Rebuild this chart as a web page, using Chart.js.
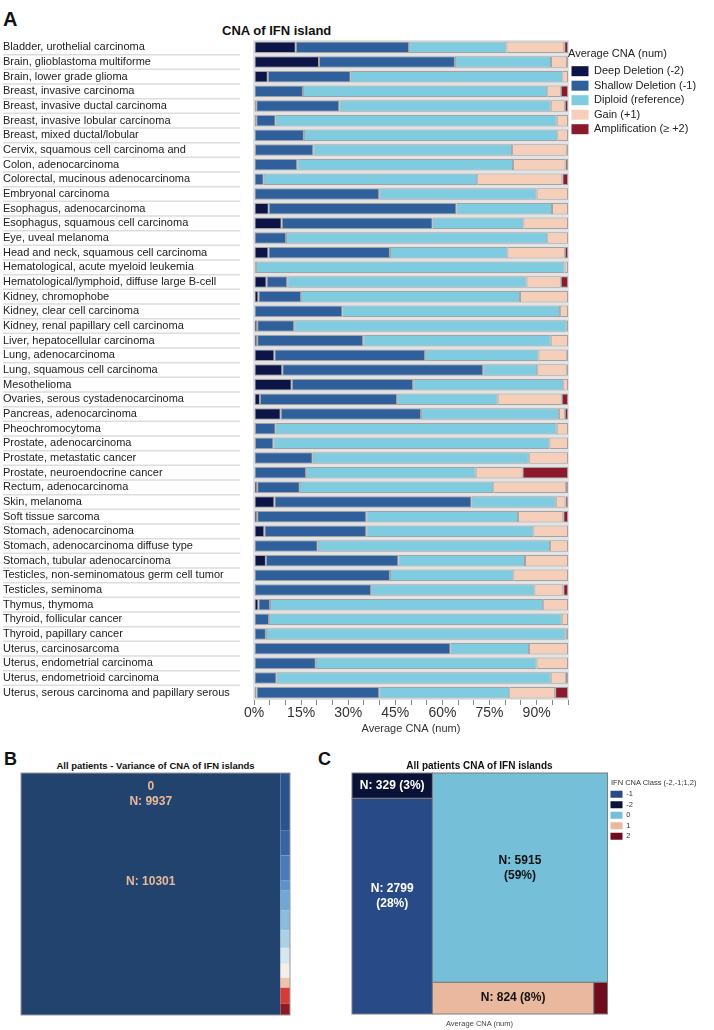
<!DOCTYPE html>
<html>
<head>
<meta charset="utf-8">
<title>CNA of IFN island</title>
<script src="https://cdn.jsdelivr.net/npm/chart.js@4.4.1/dist/chart.umd.min.js"></script>
<style>
  body { margin: 0; background: #fff; }
  #page { position: relative; width: 714px; height: 1030px; overflow: hidden; font-family: "Liberation Sans", Arial, Helvetica, sans-serif; }
  #page canvas { position: absolute; }
  .txt { position: absolute; white-space: nowrap; line-height: 1; color: #111; }
  .b { font-weight: bold; }
  .c { text-align: center; }
</style>
</head>
<body>
<div id="page">
  <div class="txt b" style="left:3px;top:9px;font-size:20px">A</div>
  <div class="txt b" style="left:222px;top:24px;font-size:13px">CNA of IFN island</div>
  <canvas id="chartA" width="714" height="740" style="left:0;top:0"></canvas>

  <div class="txt b" style="left:4px;top:750px;font-size:18px">B</div>
  <div class="txt b c" style="left:21px;top:761px;width:269px;font-size:9.5px">All patients - Variance of CNA of IFN islands</div>
  <canvas id="chartB" width="300" height="290" style="left:0;top:740px"></canvas>

  <div class="txt b" style="left:318px;top:750px;font-size:18px">C</div>
  <div class="txt b c" style="left:352px;top:761px;width:255px;font-size:10px">All patients CNA of IFN islands</div>
  <canvas id="chartC" width="424" height="290" style="left:290px;top:740px"></canvas>
  <div class="txt" style="left:611px;top:779px;font-size:7.5px;color:#333">IFN CNA Class (-2,-1;1,2)</div>
  <div class="txt c" style="left:352px;top:1020px;width:255px;font-size:7.5px;color:#444">Average CNA (num)</div>
</div>

<script>
Chart.defaults.font.family = '"Liberation Sans", Arial, Helvetica, sans-serif';
Chart.defaults.color = '#222';

// ---- panel A data (percent of patients per CNA class) ----
const cancerTypes = [
  'Bladder, urothelial carcinoma', 'Brain, glioblastoma multiforme', 'Brain, lower grade glioma',
  'Breast, invasive carcinoma', 'Breast, invasive ductal carcinoma', 'Breast, invasive lobular carcinoma',
  'Breast, mixed ductal/lobular', 'Cervix, squamous cell carcinoma and', 'Colon, adenocarcinoma',
  'Colorectal, mucinous adenocarcinoma', 'Embryonal carcinoma', 'Esophagus, adenocarcinoma',
  'Esophagus, squamous cell carcinoma', 'Eye, uveal melanoma', 'Head and neck, squamous cell carcinoma',
  'Hematological, acute myeloid leukemia', 'Hematological/lymphoid, diffuse large B-cell', 'Kidney, chromophobe',
  'Kidney, clear cell carcinoma', 'Kidney, renal papillary cell carcinoma', 'Liver, hepatocellular carcinoma',
  'Lung, adenocarcinoma', 'Lung, squamous cell carcinoma', 'Mesothelioma',
  'Ovaries, serous cystadenocarcinoma', 'Pancreas, adenocarcinoma', 'Pheochromocytoma',
  'Prostate, adenocarcinoma', 'Prostate, metastatic cancer', 'Prostate, neuroendocrine cancer',
  'Rectum, adenocarcinoma', 'Skin, melanoma', 'Soft tissue sarcoma',
  'Stomach, adenocarcinoma', 'Stomach, adenocarcinoma diffuse type', 'Stomach, tubular adenocarcinoma',
  'Testicles, non-seminomatous germ cell tumor', 'Testicles, seminoma', 'Thymus, thymoma',
  'Thyroid, follicular cancer', 'Thyroid, papillary cancer', 'Uterus, carcinosarcoma',
  'Uterus, endometrial carcinoma', 'Uterus, endometrioid carcinoma', 'Uterus, serous carcinoma and papillary serous'
];
const deepDeletion = [13.3, 20.7, 4.4, 0, 0.7, 0.7, 0, 0.3, 0, 0, 0, 4.7, 8.8, 0, 4.6,
  0.3, 4.0, 1.4, 0, 1.0, 1.0, 6.5, 9.0, 12.0, 1.9, 8.5, 0.3, 0.3, 0, 0,
  1.0, 6.5, 1.0, 3.3, 0, 3.8, 0, 0, 1.4, 0, 0, 0, 0, 0, 0.8];
const shallowDeletion = [36.1, 43.3, 26.4, 15.6, 26.5, 6.2, 15.9, 18.6, 13.8, 3.1, 39.9, 59.8, 48.1, 10.2, 38.7,
  0.3, 6.6, 13.6, 28.2, 11.8, 33.8, 48.0, 64.0, 38.7, 43.7, 44.7, 6.6, 5.9, 18.7, 16.6,
  13.6, 62.8, 34.8, 32.5, 20.3, 42.2, 43.3, 37.3, 3.7, 4.8, 3.8, 62.6, 19.7, 7.2, 39.1];
const diploid = [31.0, 30.6, 67.4, 77.8, 67.3, 89.5, 80.7, 63.3, 68.7, 68.0, 50.1, 30.4, 28.9, 83.2, 37.4,
  98.3, 76.2, 69.7, 69.3, 86.8, 59.7, 36.1, 17.2, 47.8, 32.0, 43.9, 89.5, 87.9, 68.8, 54.0,
  61.6, 26.8, 48.3, 53.2, 74.0, 40.3, 39.3, 52.0, 87.0, 93.2, 95.4, 25.0, 70.3, 87.3, 41.4];
const gain = [18.4, 5.1, 1.8, 4.3, 4.5, 3.6, 3.4, 17.4, 16.7, 27.1, 10.0, 5.1, 14.2, 6.6, 18.3,
  1.1, 10.9, 15.3, 2.5, 0.4, 5.5, 9.0, 9.4, 1.5, 20.4, 1.9, 3.6, 5.9, 12.5, 14.9,
  23.1, 3.1, 14.4, 11.0, 5.7, 13.7, 17.4, 9.2, 7.9, 2.0, 0.2, 12.4, 10.0, 4.8, 14.6];
const amplification = [1.2, 0.3, 0, 2.3, 1.0, 0, 0, 0.4, 0.8, 1.8, 0, 0, 0, 0, 1.0,
  0, 2.3, 0, 0, 0, 0, 0.4, 0.4, 0, 2.0, 1.0, 0, 0, 0, 14.5,
  0.7, 0.8, 1.5, 0, 0, 0, 0, 1.5, 0, 0, 0.6, 0, 0, 0.7, 4.1];
const cnaClasses = ['Deep Deletion (-2)', 'Shallow Deletion (-1)', 'Diploid (reference)', 'Gain (+1)', 'Amplification (\u2265 +2)'];
const cnaColors = ['#0d1548', '#2f609c', '#7fcbe0', '#f6cfba', '#8b1a2c'];
const xTickStep = 5;
const xLabelEvery = 15;

// ---- panel B data (treemap of variance of CNA) ----
const varianceGroups = ['0', 'v1', 'v2', 'v3', 'v4', 'v5', 'v6', 'v7', 'v8', 'v9', 'v10', 'v11', 'v12'];
const varianceCounts = [9937, 86, 38, 38, 15, 30, 30, 26, 24, 21, 15, 24, 17];
const varianceColors = ['#23436f', '#2c528d', '#3865a2', '#4a7cba', '#5b93c9', '#6fa8d5', '#8bbcde',
  '#aed0e4', '#d5e7ef', '#f6efe9', '#f1c3ac', '#d63c34', '#8e1a24'];

// ---- panel C data (treemap of CNA class) ----
const ifnClasses = ['-1', '-2', '0', '1', '2'];
const ifnCounts = [2799, 329, 5915, 824, 70];
const ifnColors = ['#284b87', '#0b1237', '#75bfd8', '#eab89f', '#6f0c1e'];
const ifnTextColors = ['#ffffff', '#ffffff', '#111111', '#111111', '#111111'];

// treemap nesting (slice and dice): 'h' splits left-right, 'v' splits top-bottom
const bTree = { dir: 'h', children: ['0', { dir: 'v', children: varianceGroups.slice(1) }] };
const cTree = { dir: 'h', children: [{ dir: 'v', children: ['-2', '-1'] }, { dir: 'v', children: ['0', { dir: 'h', children: ['1', '2'] }] }] };

function nodeValue(node, values) {
  if (typeof node === 'string') return values[node];
  return node.children.reduce((s, c) => s + nodeValue(c, values), 0);
}

function layoutTree(node, values, r, out) {
  if (typeof node === 'string') { out.push({ key: node, ...r }); return; }
  const total = nodeValue(node, values);
  let pos = node.dir === 'h' ? r.x0 : r.y0;
  for (const child of node.children) {
    const f = nodeValue(child, values) / total;
    if (node.dir === 'h') {
      const w = (r.x1 - r.x0) * f;
      layoutTree(child, values, { x0: pos, x1: pos + w, y0: r.y0, y1: r.y1 }, out);
      pos += w;
    } else {
      const h = (r.y1 - r.y0) * f;
      layoutTree(child, values, { x0: r.x0, x1: r.x1, y0: pos, y1: pos + h }, out);
      pos += h;
    }
  }
}

// cells are placed in data units and turned into pixels by the chart's scales
function treemapPlugin(tree, keys, counts, colors, stroke, drawLabels) {
  const values = {};
  keys.forEach((k, i) => { values[k] = counts[i]; });
  return {
    id: 'treemapCells',
    afterDatasetsDraw(chart) {
      const { ctx, scales: { x, y } } = chart;
      const cells = [];
      layoutTree(tree, values, { x0: 0, x1: 1, y0: 0, y1: 1 }, cells);
      ctx.save();
      for (const c of cells) {
        c.left = x.getPixelForValue(c.x0);
        c.right = x.getPixelForValue(c.x1);
        c.top = y.getPixelForValue(c.y0);
        c.bottom = y.getPixelForValue(c.y1);
        ctx.fillStyle = colors[keys.indexOf(c.key)];
        ctx.fillRect(c.left, c.top, c.right - c.left, c.bottom - c.top);
        if (stroke) {
          ctx.strokeStyle = stroke;
          ctx.lineWidth = 1;
          ctx.strokeRect(c.left, c.top, c.right - c.left, c.bottom - c.top);
        }
      }
      drawLabels(ctx, cells, values, chart.chartArea);
      ctx.restore();
    }
  };
}

const unitScales = {
  x: { type: 'linear', min: 0, max: 1, offset: false, display: false },
  y: { type: 'linear', min: 0, max: 1, offset: false, reverse: true, display: false },
};

// ---- panel A ----
const rowFrames = {
  id: 'rowFrames',
  beforeDraw(chart) {
    const { ctx, chartArea: a, scales: { y } } = chart;
    ctx.save();
    ctx.fillStyle = '#e3e3e3';
    ctx.fillRect(a.left - 1, a.top, a.right - a.left + 2, a.bottom - a.top);
    ctx.strokeStyle = '#dddddd';
    ctx.lineWidth = 1.5;
    for (let i = 0; i < cancerTypes.length - 1; i++) {
      const yy = (y.getPixelForValue(i) + y.getPixelForValue(i + 1)) / 2;
      ctx.beginPath();
      ctx.moveTo(3, yy);
      ctx.lineTo(240, yy);
      ctx.stroke();
    }
    ctx.restore();
  }
};

const seriesA = [deepDeletion, shallowDeletion, diploid, gain, amplification];

const chartA = new Chart(document.getElementById('chartA'), {
  type: 'bar',
  data: {
    labels: cancerTypes,
    datasets: cnaClasses.map((name, k) => ({
      label: name,
      data: seriesA[k],
      backgroundColor: cnaColors[k],
      borderColor: '#a2a2a2',
      borderWidth: 1,
      borderSkipped: false,
      barPercentage: 0.78,
      categoryPercentage: 1,
    }))
  },
  options: {
    indexAxis: 'y',
    responsive: false,
    animation: false,
    layout: { padding: { top: 40, left: 3, right: 6, bottom: 0 } },
    scales: {
      x: {
        stacked: true,
        min: 0,
        max: 100,
        ticks: {
          stepSize: xTickStep,
          autoSkip: false,
          maxRotation: 0,
          padding: 0,
          color: '#333',
          font: { size: 14 },
          callback: (v) => (v % xLabelEvery === 0 && v < 100 ? v + '%' : ''),
        },
        grid: { drawOnChartArea: false, tickLength: 5, color: '#888' },
        border: { display: false },
        title: { display: true, text: 'Average CNA (num)', font: { size: 11 }, color: '#333', padding: { top: 0, bottom: 4 } },
        afterFit: (s) => { s.height = 40; },
      },
      y: {
        stacked: true,
        ticks: { crossAlign: 'far', autoSkip: false, padding: 0, color: '#222', font: { size: 11 } },
        grid: { display: false },
        border: { display: false },
        afterFit: (s) => { s.width = 251; },
      }
    },
    plugins: {
      tooltip: { enabled: false },
      legend: {
        position: 'right',
        align: 'start',
        title: { display: true, text: 'Average CNA (num)', position: 'start', color: '#222', font: { size: 11 }, padding: { top: 8, bottom: 1 } },
        labels: {
          boxWidth: 17,
          boxHeight: 10,
          padding: 3.5,
          color: '#222',
          font: { size: 11 },
          generateLabels: (chart) => Chart.defaults.plugins.legend.labels.generateLabels(chart).map((l) => ({ ...l, lineWidth: 0 })),
        }
      }
    }
  },
  plugins: [rowFrames]
});

function fitAreaRight(chart, right) {
  chart.options.layout.padding.right += chart.chartArea.right - right;
  chart.update('none');
}
fitAreaRight(chartA, 568);

// ---- panel B ----
const bLabels = (ctx, cells, values, area) => {
  const main = cells[0];
  const cx = (main.left + main.right) / 2;
  ctx.fillStyle = '#e9b897';
  ctx.font = 'bold 12px "Liberation Sans", Arial, sans-serif';
  ctx.textAlign = 'center';
  ctx.textBaseline = 'middle';
  ctx.fillText(main.key, cx, main.top + 14);
  ctx.fillText('N: ' + values[main.key], cx, main.top + 29);
  const total = varianceCounts.reduce((a, b) => a + b, 0);
  ctx.fillText('N: ' + total, cx, (area.top + area.bottom) / 2 - 12);
  ctx.strokeStyle = '#9a9a9a';
  ctx.lineWidth = 1;
  ctx.strokeRect(area.left, area.top, area.right - area.left, area.bottom - area.top);
};

new Chart(document.getElementById('chartB'), {
  type: 'bar',
  data: { datasets: [] },
  options: {
    responsive: false,
    animation: false,
    layout: { padding: { top: 33, left: 21, right: 10, bottom: 15 } },
    scales: unitScales,
    plugins: { legend: { display: false }, tooltip: { enabled: false } }
  },
  plugins: [treemapPlugin(bTree, varianceGroups, varianceCounts, varianceColors, null, bLabels)]
});

// ---- panel C ----
const cTotal = ifnCounts.reduce((a, b) => a + b, 0);
const cLabels = (ctx, cells, values) => {
  ctx.font = 'bold 12px "Liberation Sans", Arial, sans-serif';
  ctx.textAlign = 'center';
  ctx.textBaseline = 'middle';
  for (const c of cells) {
    const n = values[c.key];
    const pct = Math.floor((n / cTotal) * 100);
    const w = c.right - c.left;
    const h = c.bottom - c.top;
    const cx = (c.left + c.right) / 2;
    const cy = (c.top + c.bottom) / 2;
    ctx.fillStyle = ifnTextColors[ifnClasses.indexOf(c.key)];
    const oneLine = 'N: ' + n + ' (' + pct + '%)';
    if (h < 40) {
      if (ctx.measureText(oneLine).width < w - 4) ctx.fillText(oneLine, cx, cy);
    } else {
      ctx.fillText('N: ' + n, cx, cy - 17);
      ctx.fillText('(' + pct + '%)', cx, cy - 2);
    }
  }
};

const chartC = new Chart(document.getElementById('chartC'), {
  type: 'bar',
  data: {
    datasets: ifnClasses.map((k, i) => ({ label: k, data: [], backgroundColor: ifnColors[i], borderWidth: 0 }))
  },
  options: {
    responsive: false,
    animation: false,
    layout: { padding: { top: 33, left: 62, right: 60, bottom: 16 } },
    scales: unitScales,
    plugins: {
      tooltip: { enabled: false },
      legend: {
        position: 'right',
        align: 'start',
        // title text is set beside the canvas; this keeps its room above the items
        title: { display: true, text: '', font: { size: 7.5 }, padding: { top: 5.5, bottom: 0 } },
        labels: { boxWidth: 12, boxHeight: 7, padding: 3, color: '#333', font: { size: 7.5 } }
      }
    }
  },
  plugins: [treemapPlugin(cTree, ifnClasses, ifnCounts, ifnColors, '#7d7d7d', cLabels)]
});
fitAreaRight(chartC, 607.5 - 290);
</script>
</body>
</html>
